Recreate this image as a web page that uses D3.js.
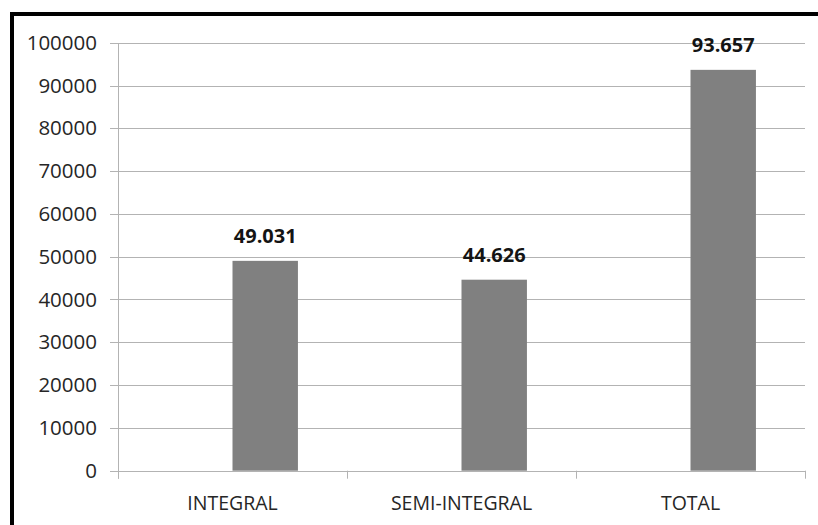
<!DOCTYPE html>
<html><head><meta charset="utf-8">
<script src="https://cdn.jsdelivr.net/npm/d3@7"></script>
<style>
html,body{margin:0;padding:0;background:#fff;}
svg{display:block;}
</style></head>
<body>
<svg id="chart" width="818" height="525"></svg>
<script>
const categories = ["INTEGRAL", "SEMI-INTEGRAL", "TOTAL"];
const values = [49031, 44626, 93657];
const valueLabels = ["49.031", "44.626", "93.657"];
const yTicks = [0, 10000, 20000, 30000, 40000, 50000, 60000, 70000, 80000, 90000, 100000];

(function () {
const svg = d3.select("#chart");
const W = 818, H = 525;
const pLeft = 118, pRight = 805, pTop = 42.7, pBottom = 470.7;

// frame (top + left thick border)
svg.append("rect").attr("x", 0).attr("y", 0).attr("width", W).attr("height", H).attr("fill", "#fff");
svg.append("line").attr("x1", 10).attr("x2", W).attr("y1", 14).attr("y2", 14).attr("stroke", "#000").attr("stroke-width", 4);
svg.append("line").attr("x1", 12).attr("x2", 12).attr("y1", 12).attr("y2", H).attr("stroke", "#000").attr("stroke-width", 4);

const y = d3.scaleLinear().domain([0, 100000]).range([pBottom, pTop]);
const x = d3.scaleBand().domain(categories).range([pLeft, pRight]).padding(0);

const gridColor = "#b3b3b3";
const font = "'Open Sans', sans-serif";

// gridlines
svg.append("g").selectAll("line").data(yTicks).join("line")
  .attr("x1", pLeft - 8).attr("x2", pRight)
  .attr("y1", d => Math.round(y(d)) + 0.5).attr("y2", d => Math.round(y(d)) + 0.5)
  .attr("stroke", gridColor).attr("stroke-width", 1);

// y axis line
svg.append("line").attr("x1", pLeft + 0.5).attr("x2", pLeft + 0.5)
  .attr("y1", Math.round(pTop)).attr("y2", pBottom + 8)
  .attr("stroke", gridColor).attr("stroke-width", 1);

// x ticks at band boundaries
const xBounds = categories.map(c => x(c)).concat([x(categories[categories.length - 1]) + x.bandwidth()]);
svg.append("g").selectAll("line").data(xBounds).join("line")
  .attr("x1", d => Math.round(d) + 0.5).attr("x2", d => Math.round(d) + 0.5)
  .attr("y1", pBottom).attr("y2", pBottom + 8)
  .attr("stroke", gridColor).attr("stroke-width", 1);

// y tick labels
svg.append("g").selectAll("text").data(yTicks).join("text")
  .attr("x", 97).attr("y", d => y(d) + 7)
  .attr("text-anchor", "end")
  .attr("font-family", font).attr("font-size", "20.5px").attr("fill", "#262626")
  .text(d => d);

// bars: occupy right half-slot of each band (second series of two-series layout)
const barW = x.bandwidth() / 3.5;
svg.append("g").selectAll("rect").data(values).join("rect")
  .attr("x", (d, i) => x(categories[i]) + x.bandwidth() / 2)
  .attr("y", d => y(d))
  .attr("width", barW)
  .attr("height", d => pBottom - y(d))
  .attr("fill", "#808080");

// value labels
svg.append("g").selectAll("text").data(values).join("text")
  .attr("x", (d, i) => x(categories[i]) + x.bandwidth() / 2 + barW / 2)
  .attr("y", d => y(d) - 17.5)
  .attr("text-anchor", "middle")
  .attr("font-family", font).attr("font-size", "20px").attr("font-weight", "bold").attr("fill", "#141414")
  .text((d, i) => valueLabels[i]);

// category labels
svg.append("g").selectAll("text").data(categories).join("text")
  .attr("x", d => x(d) + x.bandwidth() / 2)
  .attr("y", 509.5)
  .attr("text-anchor", "middle")
  .attr("font-family", font).attr("font-size", "19.5px").attr("fill", "#262626")
  .text(d => d);
})();
</script>
</body></html>
